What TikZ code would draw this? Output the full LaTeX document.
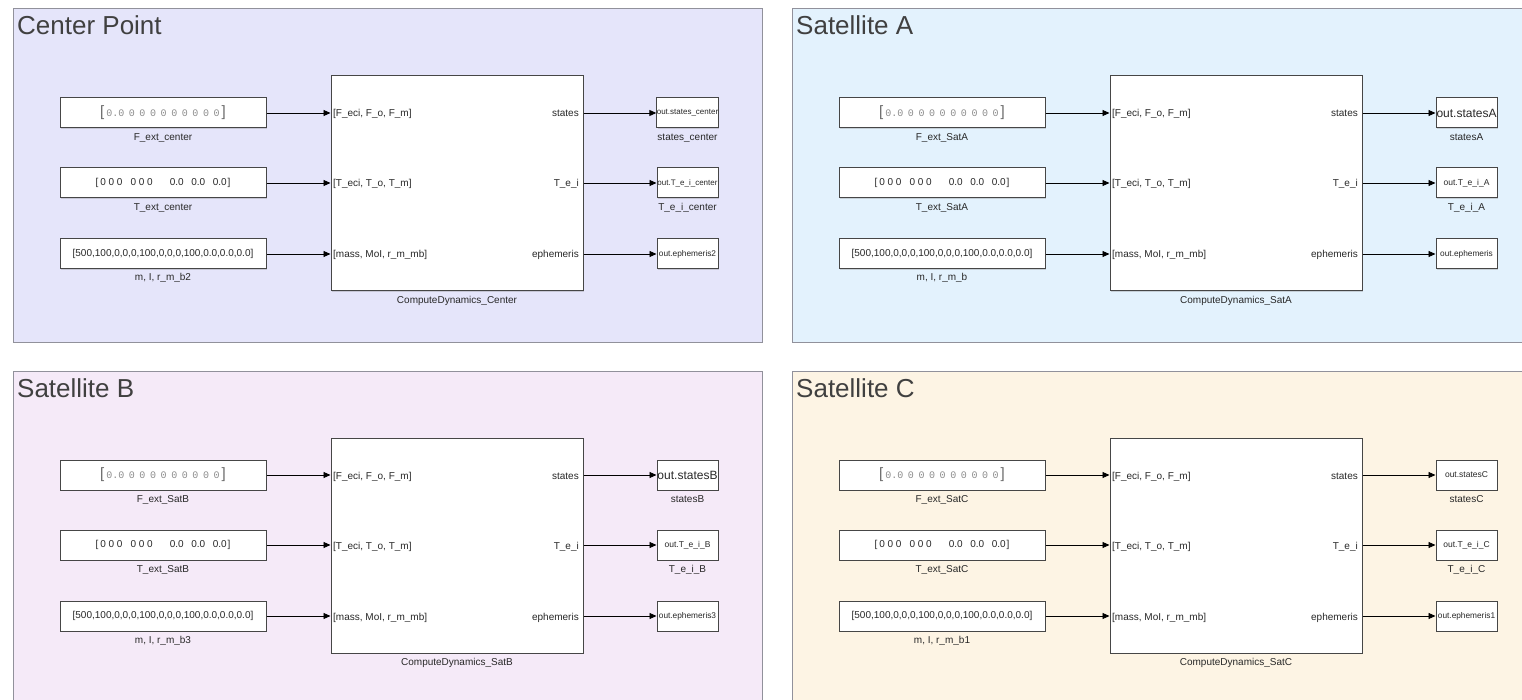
\documentclass[tikz,border=0pt]{standalone}
\usepackage{fontspec}
\setmainfont{Liberation Sans}
\newfontfamily\monofont{Liberation Mono}
\usetikzlibrary{arrows.meta,shadows}
\definecolor{pC}{RGB}{229,229,250}
\definecolor{pA}{RGB}{227,242,253}
\definecolor{pB}{RGB}{245,234,248}
\definecolor{pD}{RGB}{253,244,228}
\definecolor{bordgray}{RGB}{145,145,155}
\definecolor{blk}{RGB}{70,70,70}
\definecolor{txt}{RGB}{40,40,40}
\definecolor{ttl}{RGB}{64,64,64}
\definecolor{fzero}{RGB}{140,140,140}
\definecolor{fbr}{RGB}{105,105,105}
\tikzset{
  panelbox/.style={draw=bordgray, line width=1pt},
  blockbox/.style={draw=blk, fill=white, line width=1pt, inner sep=0pt,
    drop shadow={shadow xshift=1.3pt, shadow yshift=-1.3pt, opacity=0.3}},
  srcsize/.style={minimum width=206pt, minimum height=30pt, text=txt, font=\fontsize{10}{12}\selectfont},
  outsize/.style={minimum width=61pt, minimum height=30pt, text=txt},
  titletext/.style={font=\fontsize{26}{30}\selectfont, text=ttl, anchor=base west, inner sep=0pt},
  lbl/.style={font=\fontsize{10}{12}\selectfont, text=txt, anchor=base, inner sep=0pt},
  portl/.style={font=\fontsize{10}{12}\selectfont, text=txt, inner sep=0pt},
  conn/.style={draw=black, line width=0.9pt, -{Triangle[length=7pt,width=6pt]}}
}
\newcommand\zz{\hspace{4.6pt}0}
\newcommand\Fzeros{{\color{fbr}\fontsize{15}{15}\selectfont[}\hspace{2pt}{\color{fzero}\monofont\fontsize{10}{10}\selectfont 0.0\zz\zz\zz\zz\zz\zz\zz\zz\zz}\hspace{2pt}{\color{fbr}\fontsize{15}{15}\selectfont]}}
\newcommand\Tzeros{[\hspace{2pt}0 0 0\hspace{8pt}0 0 0\hspace{17pt}0.0\hspace{7.6pt}0.0\hspace{7.6pt}0.0\hspace{1pt}]}
\newcommand\Mvals{[500,100,0,0,0,100,0,0,0,100,0.0,0.0,0.0]}
% #1 dx, #2 dy, #3 fill, #4 title, #5 name prefix, #6 F/T suffix, #7 m label, #8 main suffix
\newcommand\satpanel[8]{%
\begin{scope}[shift={(#1,#2)}]
  \draw[panelbox, fill=#3] (13,9) rectangle (762,342);
  \node[titletext] (#5title) at (17,35) {#4};
  \node[blockbox, srcsize] (#5F) at (163,113) {\Fzeros};
  \node[blockbox, srcsize] (#5T) at (163,183) {\Tzeros};
  \node[blockbox, srcsize] (#5M) at (163,254) {\Mvals};
  \node[lbl] (#5Fl) at (163,140.5) {F\_ext\_#6};
  \node[lbl] (#5Tl) at (163,210.5) {T\_ext\_#6};
  \node[lbl] (#5Ml) at (163,281) {#7};
  \node[blockbox, minimum width=252pt, minimum height=215pt] (#5main) at (457,183.5) {};
  \node[lbl] (#5mainl) at (457,303.5) {ComputeDynamics\_#8};
  \node[portl, anchor=base west] (#5p1) at (333,117) {[F\_eci, F\_o, F\_m]};
  \node[portl, anchor=base west] (#5p2) at (333,187) {[T\_eci, T\_o, T\_m]};
  \node[portl, anchor=base west] (#5p3) at (333,258) {[mass, MoI, r\_m\_mb]};
  \node[portl, anchor=base east] (#5q1) at (579,117) {states};
  \node[portl, anchor=base east] (#5q2) at (579,187) {T\_e\_i};
  \node[portl, anchor=base east] (#5q3) at (579,258) {ephemeris};
  \node[blockbox, outsize, font=\fontsize{\sOneSize}{14}\selectfont] (#5o1) at (687.5,113) {out.states\sOne};
  \node[blockbox, outsize, font=\fontsize{\sTwoSize}{10}\selectfont] (#5o2) at (687.5,183) {out.T\_e\_i\_\sTwo};
  \node[blockbox, outsize, font=\fontsize{8.3}{10}\selectfont] (#5o3) at (687.5,254) {out.ephemeris\sThree};
  \node[lbl] (#5o1l) at (687.5,140.5) {states\sOne};
  \node[lbl] (#5o2l) at (687.5,210.5) {T\_e\_i\_\sTwo};
  \draw[conn] (#5F.east) -- (#5F -| #5main.west);
  \draw[conn] (#5T.east) -- (#5T -| #5main.west);
  \draw[conn] (#5M.east) -- (#5M -| #5main.west);
  \draw[conn] (#5main.east |- #5o1) -- (#5o1.west);
  \draw[conn] (#5main.east |- #5o2) -- (#5o2.west);
  \draw[conn] (#5main.east |- #5o3) -- (#5o3.west);
\end{scope}}
\begin{document}
\begin{tikzpicture}[x=1pt,y=-1pt]
  \clip (0,0) rectangle (1522,700);
  \fill[white] (0,0) rectangle (1522,700);
  \def\sOne{\_center}\def\sOneSize{8}\def\sTwo{center}\def\sTwoSize{8}\def\sThree{2}
  \satpanel{0}{0}{pC}{Center Point}{c}{center}{m, I, r\_m\_b2}{Center}
  \def\sOne{A}\def\sOneSize{12}\def\sTwo{A}\def\sTwoSize{8.5}\def\sThree{}
  \satpanel{779}{0}{pA}{Satellite A}{a}{SatA}{m, I, r\_m\_b}{SatA}
  \def\sOne{B}\def\sOneSize{12}\def\sTwo{B}\def\sTwoSize{8.5}\def\sThree{3}
  \satpanel{0}{362}{pB}{Satellite B}{b}{SatB}{m, I, r\_m\_b3}{SatB}
  \def\sOne{C}\def\sOneSize{8.5}\def\sTwo{C}\def\sTwoSize{8.5}\def\sThree{1}
  \satpanel{779}{362}{pD}{Satellite C}{d}{SatC}{m, I, r\_m\_b1}{SatC}
\end{tikzpicture}
\end{document}
